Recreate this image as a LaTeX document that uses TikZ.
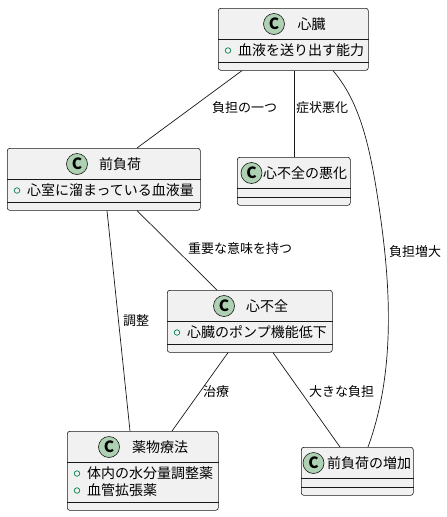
\documentclass[tikz,border=0pt]{standalone}
\usepackage{fontspec}
\setmainfont{Noto Sans CJK JP}
\usetikzlibrary{calc}
\definecolor{boxfill}{HTML}{F1F1F1}
\definecolor{boxline}{HTML}{181818}
\definecolor{iconfill}{HTML}{ADD1B2}
\definecolor{bulletc}{HTML}{038048}
\tikzset{
  classbox/.style={draw=boxline, fill=boxfill, line width=0.6pt, rounded corners=2.5pt, anchor=north west, inner sep=0pt},
  sepline/.style={draw=boxline, line width=0.6pt},
  cicon/.style={circle, draw=boxline, fill=iconfill, line width=0.6pt, minimum size=21pt, inner sep=0pt, font=\fontsize{15.5}{15.5}\selectfont\bfseries},
  ttl/.style={anchor=west, inner sep=0pt, font=\fontsize{14}{14}\selectfont},
  attr/.style={anchor=west, inner sep=0pt, font=\fontsize{14}{14}\selectfont},
  bul/.style={circle, draw=bulletc, line width=0.7pt, minimum size=5.5pt, inner sep=0pt},
  conn/.style={draw=boxline, line width=0.7pt},
  elabel/.style={anchor=west, inner sep=0pt, font=\fontsize{13}{13}\selectfont},
}
\begin{document}
\begin{tikzpicture}[x=1pt,y=-1pt]
\path[use as bounding box] (0,0) rectangle (447,517);

% 心臓
\node[classbox, minimum width=150pt, minimum height=62pt] (heart) at (218,8) {};
\draw[sepline] ([yshift=-31pt]heart.north west) -- ([yshift=-31pt]heart.north east);
\draw[sepline] ([yshift=-54pt]heart.north west) -- ([yshift=-54pt]heart.north east);
\node[cicon] (heartC) at (274,24) {C};
\node[ttl] (heartT) at (297.5,24) {心臓};
\node[bul] (heartB1) at (228,50.5) {};
\node[attr] (heartA1) at (238,50.5) {血液を送り出す能力};

% 前負荷
\node[classbox, minimum width=193pt, minimum height=62pt] (preload) at (7,148) {};
\draw[sepline] ([yshift=-31pt]preload.north west) -- ([yshift=-31pt]preload.north east);
\draw[sepline] ([yshift=-54pt]preload.north west) -- ([yshift=-54pt]preload.north east);
\node[cicon] (preloadC) at (77,164) {C};
\node[ttl] (preloadT) at (99,164) {前負荷};
\node[bul] (preloadB1) at (17,190.5) {};
\node[attr] (preloadA1) at (27,190.5) {心室に溜まっている血液量};

% 心不全の悪化
\node[classbox, minimum width=113pt, minimum height=48pt] (worsen) at (237,157) {};
\draw[sepline] ([yshift=-31pt]worsen.north west) -- ([yshift=-31pt]worsen.north east);
\draw[sepline] ([yshift=-40pt]worsen.north west) -- ([yshift=-40pt]worsen.north east);
\node[cicon] (worsenC) at (251.5,173) {C};
\node[ttl] (worsenT) at (263,173) {心不全の悪化};

% 心不全
\node[classbox, minimum width=165pt, minimum height=62pt] (hf) at (167,290) {};
\draw[sepline] ([yshift=-31pt]hf.north west) -- ([yshift=-31pt]hf.north east);
\draw[sepline] ([yshift=-54pt]hf.north west) -- ([yshift=-54pt]hf.north east);
\node[cicon] (hfC) at (224,306) {C};
\node[ttl] (hfT) at (246,306) {心不全};
\node[bul] (hfB1) at (177,332.5) {};
\node[attr] (hfA1) at (187,332.5) {心臓のポンプ機能低下};

% 薬物療法
\node[classbox, minimum width=151pt, minimum height=79pt] (drug) at (67,431) {};
\draw[sepline] ([yshift=-31pt]drug.north west) -- ([yshift=-31pt]drug.north east);
\draw[sepline] ([yshift=-71pt]drug.north west) -- ([yshift=-71pt]drug.north east);
\node[cicon] (drugC) at (109,447) {C};
\node[ttl] (drugT) at (132,447) {薬物療法};
\node[bul] (drugB1) at (77,473.5) {};
\node[attr] (drugA1) at (87,473.5) {体内の水分量調整薬};
\node[bul] (drugB2) at (77,490.5) {};
\node[attr] (drugA2) at (87,490.5) {血管拡張薬};

% 前負荷の増加
\node[classbox, minimum width=112pt, minimum height=48pt] (incr) at (301,447) {};
\draw[sepline] ([yshift=-31pt]incr.north west) -- ([yshift=-31pt]incr.north east);
\draw[sepline] ([yshift=-40pt]incr.north west) -- ([yshift=-40pt]incr.north east);
\node[cicon] (incrC) at (313.5,463) {C};
\node[ttl] (incrT) at (327,463) {前負荷の増加};

% connectors
\coordinate (curvemid) at (378,200);
\draw[conn] ([xshift=24pt]heart.south west) -- ([xshift=130pt]preload.north west);
\draw[conn] ([xshift=76pt]heart.south west) -- ([xshift=57pt]worsen.north west);
\draw[conn] ([xshift=115pt]heart.south west) .. controls (358,100) and (369,140) .. (curvemid)
  .. controls (387,260) and (400,360) .. ([xshift=67pt]incr.north west);
\draw[conn] ([xshift=130pt]preload.south west) -- ([xshift=50pt]hf.north west);
\draw[conn] ([xshift=100pt]preload.south west) -- ([xshift=63pt]drug.north west);
\draw[conn] ([xshift=61pt]hf.south west) -- ([xshift=105pt]drug.north west);
\draw[conn] ([xshift=106pt]hf.south west) -- ([xshift=39pt]incr.north west);

% labels
\node[elabel] (l1) at (212,108) {負担の一つ};
\node[elabel] (l2) at (296,108) {症状悪化};
\node[elabel] (l3) at (389,252) {負担増大};
\node[elabel] (l4) at (188,249) {重要な意味を持つ};
\node[elabel] (l5) at (123,321) {調整};
\node[elabel] (l6) at (203,392) {治療};
\node[elabel] (l7) at (309,392) {大きな負担};
\end{tikzpicture}
\end{document}
